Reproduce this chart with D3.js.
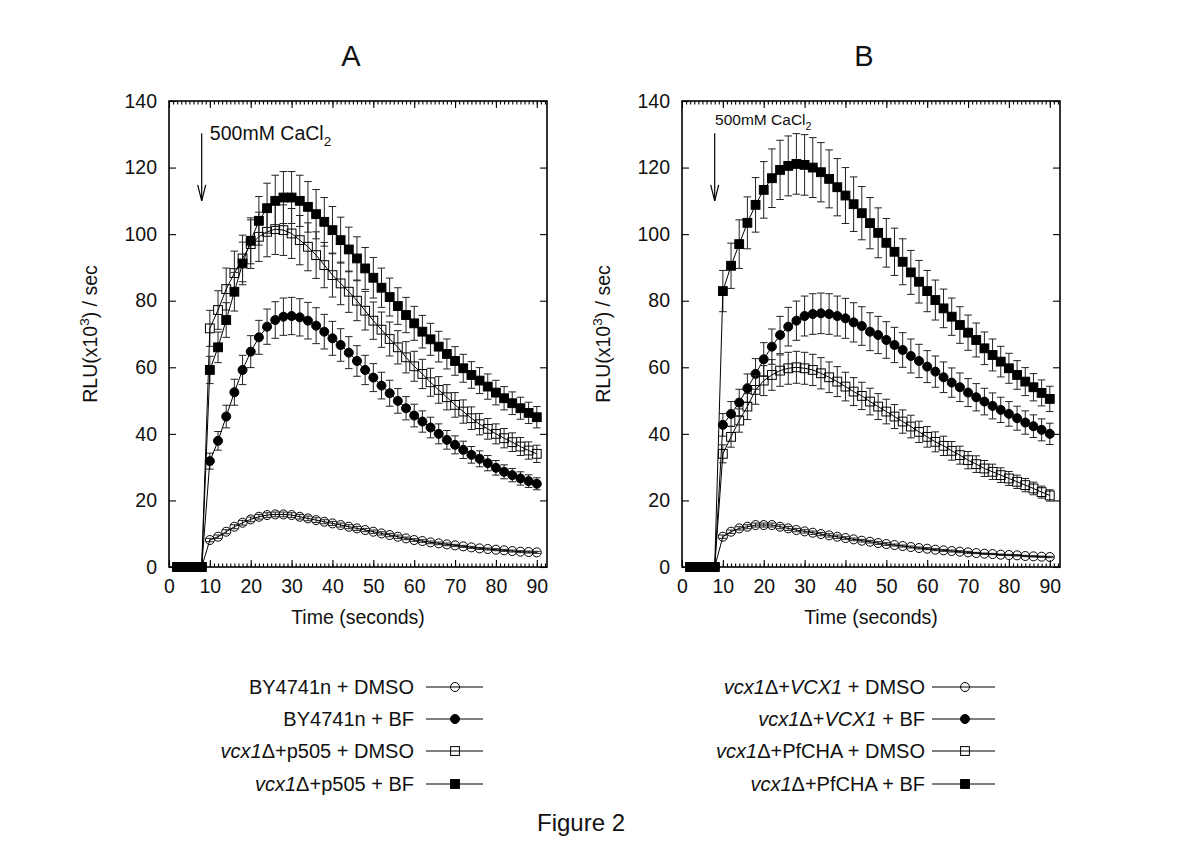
<!DOCTYPE html>
<html><head><meta charset="utf-8">
<script src="https://cdn.jsdelivr.net/npm/d3@7"></script>
<style>
body{margin:0;background:#fff}
svg{display:block}
text{font-family:"Liberation Sans",Arial,Helvetica,sans-serif;fill:#111;white-space:pre}
</style>
</head><body>
<svg id="chart" width="1200" height="847"></svg>
<script>
// ---------------- DATA ----------------
const time = [2,4,6,8,10,12,14,16,18,20,22,24,26,28,30,32,34,36,38,40,42,44,46,48,50,52,54,56,58,60,62,64,66,68,70,72,74,76,78,80,82,84,86,88,90];
const xTicks = [0,10,20,30,40,50,60,70,80,90];
const yTicks = [0,20,40,60,80,100,120,140];
const panelTitles = ["A","B"];
const xTitle = "Time (seconds)";
const annotation = "500mM CaCl";

// Panel A
const aByDmso    = [0,0,0,0, 8.1,9.1,10.6,12.1,13.3,14.3,15.1,15.6,15.8,15.8,15.6,15.1,14.6,14.1,13.6,13.1,12.6,12.1,11.6,11.1,10.6,10.1,9.6,9.1,8.6,8.1,7.8,7.4,7.1,6.8,6.5,6.2,5.9,5.6,5.4,5.2,5.0,4.8,4.6,4.5,4.4];
const aByDmsoErr = [0,0,0,0, 0.5,0.5,0.6,0.6,0.7,0.7,0.7,0.7,0.7,0.7,0.7,0.7,0.7,0.7,0.6,0.6,0.6,0.6,0.6,0.5,0.5,0.5,0.5,0.5,0.4,0.4,0.4,0.4,0.4,0.4,0.3,0.3,0.3,0.3,0.3,0.3,0.3,0.3,0.3,0.3,0.3];
const aByBf      = [0,0,0,0, 31.8,37.9,45.2,52.5,59.2,64.7,69.0,72.2,74.2,75.2,75.4,75.0,74.0,72.5,70.7,68.7,66.7,64.4,61.9,59.2,56.9,54.5,52.2,49.9,47.7,45.5,43.7,41.9,40.0,38.2,36.7,35.2,33.7,32.5,31.2,29.8,28.6,27.6,26.6,25.8,25.0];
const aByBfErr   = [0,0,0,0, 2.4,2.8,3.4,3.9,4.4,4.8,5.1,5.3,5.5,5.6,5.6,5.6,5.5,5.4,5.2,5.1,4.9,4.8,4.6,4.4,4.2,4.0,3.9,3.7,3.5,3.4,3.2,3.1,3.0,2.8,2.7,2.6,2.5,2.4,2.3,2.2,2.1,2.0,2.0,1.9,1.8];
const aP505Dmso    = [0,0,0,0, 71.7,77.2,83.5,88.3,92.7,97.0,99.2,100.7,101.5,101.2,100.2,98.2,96.2,93.7,90.7,87.7,85.2,82.7,80.0,77.0,74.0,71.3,68.5,66.0,63.0,60.3,58.0,55.5,53.2,51.0,48.7,46.7,44.7,42.9,41.5,40.0,38.7,37.5,36.2,35.0,34.0];
const aP505DmsoErr = [0,0,0,0, 5.4,5.8,6.3,6.6,7.0,7.3,7.4,7.5,7.6,7.6,7.5,7.4,7.2,7.0,6.8,6.6,6.4,6.2,6.0,5.8,5.6,5.3,5.1,5.0,4.7,4.5,4.4,4.2,4.0,3.8,3.7,3.5,3.4,3.2,3.1,3.0,2.9,2.8,2.7,2.6,2.6];
const aP505Bf      = [0,0,0,0, 59.2,66.0,74.2,82.7,91.2,98.0,104.0,107.8,110.0,111.0,111.0,110.0,108.2,106.0,103.7,101.2,98.2,95.4,92.7,89.7,86.9,83.9,81.1,78.4,75.7,73.2,70.7,68.4,66.2,64.0,61.9,59.7,57.7,56.0,54.2,52.4,50.7,49.2,47.7,46.3,45.0];
const aP505BfErr   = [0,0,0,0, 4.1,4.6,5.2,5.8,6.4,6.9,7.3,7.5,7.7,7.8,7.8,7.7,7.6,7.4,7.3,7.1,6.9,6.7,6.5,6.3,6.1,5.9,5.7,5.5,5.3,5.1,4.9,4.8,4.6,4.5,4.3,4.2,4.0,3.9,3.8,3.7,3.5,3.4,3.3,3.2,3.2];

// Panel B
const bVcxDmso    = [0,0,0,0, 9.1,10.6,11.6,12.1,12.6,12.6,12.6,12.1,11.6,11.1,10.7,10.3,9.9,9.5,9.1,8.7,8.3,7.9,7.6,7.2,6.9,6.6,6.3,6.0,5.7,5.5,5.2,5.0,4.8,4.6,4.4,4.2,4.0,3.9,3.7,3.6,3.5,3.3,3.2,3.1,3.0];
const bVcxDmsoErr = [0,0,0,0, 0.5,0.5,0.5,0.6,0.6,0.6,0.6,0.6,0.6,0.5,0.5,0.5,0.5,0.5,0.5,0.4,0.4,0.4,0.4,0.4,0.4,0.3,0.3,0.3,0.3,0.3,0.3,0.3,0.3,0.3,0.3,0.2,0.2,0.2,0.2,0.2,0.2,0.2,0.2,0.2,0.2];
const bVcxBf      = [0,0,0,0, 42.7,46.0,49.4,53.7,58.0,62.4,66.2,69.7,72.2,74.0,75.4,76.0,76.2,76.0,75.4,74.7,73.5,72.4,70.7,69.7,68.2,66.7,65.2,63.4,61.9,60.2,58.7,57.0,55.4,54.0,52.4,51.0,49.7,48.4,47.2,46.0,44.7,43.4,42.3,41.2,40.0];
const bVcxBfErr   = [0,0,0,0, 3.4,3.7,4.0,4.3,4.6,5.0,5.3,5.6,5.8,5.9,6.0,6.1,6.1,6.1,6.0,6.0,5.9,5.8,5.7,5.6,5.5,5.3,5.2,5.1,5.0,4.8,4.7,4.6,4.4,4.3,4.2,4.1,4.0,3.9,3.8,3.7,3.6,3.5,3.4,3.3,3.2];
const bPfDmso     = [0,0,0,0, 34.0,39.1,44.0,48.2,53.2,56.0,57.7,59.0,59.7,60.0,59.7,59.2,58.2,57.0,55.7,54.2,52.7,51.4,49.7,48.2,46.7,45.2,43.7,42.2,40.6,39.1,37.6,36.4,34.9,33.6,32.1,30.9,29.6,28.6,27.6,26.6,25.6,24.6,23.6,22.5,21.5];
const bPfDmsoErr  = [0,0,0,0, 2.7,3.1,3.5,3.9,4.3,4.5,4.6,4.7,4.8,4.8,4.8,4.7,4.7,4.6,4.5,4.3,4.2,4.1,4.0,3.9,3.7,3.6,3.5,3.4,3.2,3.1,3.0,2.9,2.8,2.7,2.6,2.5,2.4,2.3,2.2,2.1,2.0,2.0,1.9,1.8,1.7];
const bPfBf       = [0,0,0,0, 82.9,90.5,97.0,103.4,108.8,113.3,116.8,119.3,120.5,121.1,120.8,120.0,118.6,116.6,114.1,111.6,109.0,106.3,103.3,100.4,97.4,94.7,91.7,88.5,85.7,82.9,80.2,77.7,75.2,72.7,70.4,68.2,65.7,63.7,61.7,59.7,57.7,55.7,54.0,52.3,50.5];
const bPfBfErr    = [0,0,0,0, 6.2,6.8,7.3,7.8,8.2,8.5,8.8,8.9,9.0,9.1,9.1,9.0,8.9,8.7,8.6,8.4,8.2,8.0,7.7,7.5,7.3,7.1,6.9,6.6,6.4,6.2,6.0,5.8,5.6,5.5,5.3,5.1,4.9,4.8,4.6,4.5,4.3,4.2,4.1,3.9,3.8];

// Legend labels: segments of [text, italic]
const legendA = [
  [["BY4741n + DMSO",0]],
  [["BY4741n + BF",0]],
  [["vcx1",1],["\u0394+p505 + DMSO",0]],
  [["vcx1",1],["\u0394+p505 + BF",0]]
];
const legendB = [
  [["vcx1",1],["\u0394+",0],["VCX1",1],[" + DMSO",0]],
  [["vcx1",1],["\u0394+",0],["VCX1",1],[" + BF",0]],
  [["vcx1",1],["\u0394+PfCHA + DMSO",0]],
  [["vcx1",1],["\u0394+PfCHA + BF",0]]
];
const symbols = ["circleOpen","circle","squareOpen","square"];

// ---------------- DRAW ----------------
const svg = d3.select("#chart");
const TOP = 101, BOTTOM = 567, W = 378;

const panels = [
  {title: panelTitles[0], left: 169, series: [[aByDmso,aByDmsoErr],[aByBf,aByBfErr],[aP505Dmso,aP505DmsoErr],[aP505Bf,aP505BfErr]],
   legend: legendA, ann: {fs: 19.5, tx: 10, base: 140}, leg: {textEnd: 414, l0: 426, l1: 483, mk: 455}},
  {title: panelTitles[1], left: 682, series: [[bVcxDmso,bVcxDmsoErr],[bVcxBf,bVcxBfErr],[bPfDmso,bPfDmsoErr],[bPfBf,bPfBfErr]],
   legend: legendB, ann: {fs: 15.5, tx: 8.1, base: 125}, leg: {textEnd: 925, l0: 932, l1: 995, mk: 965}}
];

const legendRows = [687, 719, 751, 784];

function drawSymbol(g, type, cx, cy) {
  if (type === "circleOpen" || type === "circle") {
    g.append("circle").attr("cx", cx).attr("cy", cy).attr("r", 4.5)
      .attr("fill", type === "circle" ? "#000" : "none").attr("stroke", "#000").attr("stroke-width", 1);
  } else {
    const s = 8.8;
    g.append("rect").attr("x", cx - s/2).attr("y", cy - s/2).attr("width", s).attr("height", s)
      .attr("fill", type === "square" ? "#000" : "none").attr("stroke", "#000").attr("stroke-width", 1);
  }
}

panels.forEach(p => {
  const x = d3.scaleLinear().domain([0, 92.5]).range([p.left, p.left + W]);
  const y = d3.scaleLinear().domain([0, 140]).range([BOTTOM, TOP]);
  const g = svg.append("g");

  // title
  g.append("text").attr("x", p.left + W/2 - 7).attr("y", 66).attr("text-anchor", "middle")
    .attr("font-size", 29).text(p.title);

  // axes
  const minor = d3.range(0, 93, 1);
  const styleAxis = a => { a.select(".domain").remove(); a.selectAll(".tick line").attr("stroke", "#000").attr("stroke-width", 1.1); };
  g.append("g").attr("transform", `translate(0,${BOTTOM})`)
    .call(d3.axisBottom(x).tickValues(minor).tickSize(-3.5).tickFormat("")).call(styleAxis);
  g.append("g").attr("transform", `translate(0,${TOP})`)
    .call(d3.axisTop(x).tickValues(minor).tickSize(-3.5).tickFormat("")).call(styleAxis);
  g.append("g").attr("transform", `translate(0,${BOTTOM})`)
    .call(d3.axisBottom(x).tickValues(xTicks).tickSize(-7).tickPadding(12).tickFormat(d3.format("d")))
    .call(styleAxis).call(a => a.selectAll("text").attr("font-size", 19.5).attr("font-family", null).attr("fill", "#111"));
  g.append("g").attr("transform", `translate(0,${TOP})`)
    .call(d3.axisTop(x).tickValues(xTicks).tickSize(-7).tickFormat("")).call(styleAxis);
  g.append("g").attr("transform", `translate(${p.left},0)`)
    .call(d3.axisLeft(y).tickValues(yTicks).tickSize(-7).tickPadding(12).tickFormat(d3.format("d")))
    .call(styleAxis).call(a => a.selectAll("text").attr("font-size", 19.5).attr("font-family", null).attr("fill", "#111"));
  g.append("g").attr("transform", `translate(${p.left + W},0)`)
    .call(d3.axisRight(y).tickValues(yTicks).tickSize(-7).tickFormat("")).call(styleAxis);

  // frame
  g.append("rect").attr("x", p.left).attr("y", TOP).attr("width", W).attr("height", BOTTOM - TOP)
    .attr("fill", "none").attr("stroke", "#000").attr("stroke-width", 1.6);

  // axis titles
  g.append("text").attr("x", p.left + W/2).attr("y", 624).attr("text-anchor", "middle")
    .attr("font-size", 19.5).text(xTitle);
  const yl = g.append("text").attr("transform", `translate(${p.left - 72},${(TOP + BOTTOM)/2}) rotate(-90)`)
    .attr("text-anchor", "middle").attr("font-size", 19.5);
  yl.append("tspan").text("RLU(x10");
  yl.append("tspan").attr("dy", -8).attr("font-size", 13.5).text("3");
  yl.append("tspan").attr("dy", 8).text(") / sec");

  // annotation
  const at = g.append("text").attr("x", x(p.ann.tx)).attr("y", p.ann.base).attr("font-size", p.ann.fs);
  at.append("tspan").text(annotation);
  at.append("tspan").attr("dy", p.ann.fs * 0.3).attr("font-size", p.ann.fs * 0.7).text("2");
  const ax = x(8);
  g.append("line").attr("x1", ax).attr("x2", ax).attr("y1", y(130.3)).attr("y2", y(110)).attr("stroke", "#000").attr("stroke-width", 1.2);
  g.append("path").attr("d", `M${ax-4},${y(114.8)} L${ax},${y(110)} L${ax+4},${y(114.8)}`)
    .attr("fill", "none").attr("stroke", "#000").attr("stroke-width", 1.2);

  // series
  const line = d3.line().x((d, i) => x(time[i])).y(d => y(d));
  p.series.forEach(([vals, errs], si) => {
    const sg = g.append("g");
    const cap = 3.8;
    vals.forEach((v, i) => {
      const e = errs[i];
      if (e > 0) {
        const cx = x(time[i]), y0 = y(v - e), y1 = y(v + e);
        sg.append("path").attr("d", `M${cx},${y0}V${y1}M${cx-cap},${y0}H${cx+cap}M${cx-cap},${y1}H${cx+cap}`)
          .attr("fill", "none").attr("stroke", "#222").attr("stroke-width", 1);
      }
    });
    sg.append("path").datum(vals).attr("d", line).attr("fill", "none").attr("stroke", "#000").attr("stroke-width", 1);
    vals.forEach((v, i) => drawSymbol(sg, symbols[si], x(time[i]), y(v)));
  });

  // legend
  p.legend.forEach((segs, i) => {
    const ry = legendRows[i];
    const t = g.append("text").attr("x", p.leg.textEnd).attr("y", ry + 7).attr("text-anchor", "end").attr("font-size", 20);
    segs.forEach(([s, it]) => t.append("tspan").attr("font-style", it ? "italic" : "normal").text(s));
    g.append("line").attr("x1", p.leg.l0).attr("x2", p.leg.l1).attr("y1", ry).attr("y2", ry)
      .attr("stroke", "#000").attr("stroke-width", 1.2);
    drawSymbol(g, symbols[i], p.leg.mk, ry);
  });
});

svg.append("text").attr("x", 581).attr("y", 831).attr("text-anchor", "middle").attr("font-size", 24).text("Figure 2");
</script>
</body></html>
